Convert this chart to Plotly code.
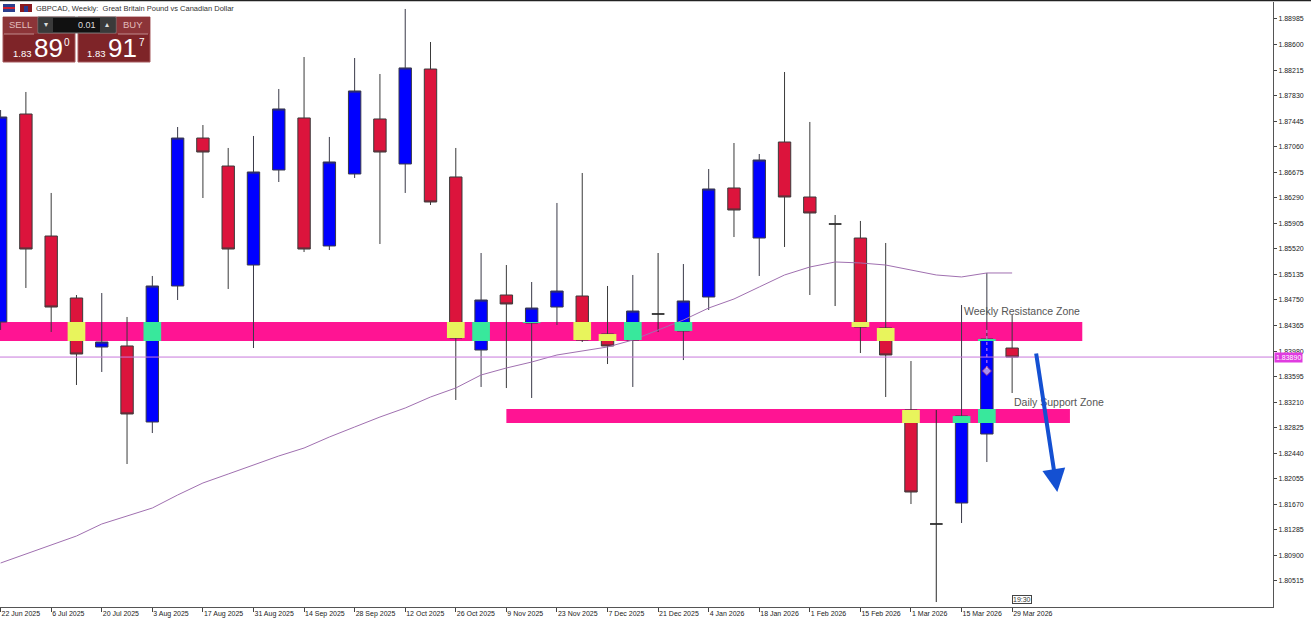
import plotly.graph_objects as go
import pandas as pd

# ---------------- data ----------------
dates = [
    "2025-06-22", "2025-06-29", "2025-07-06", "2025-07-13", "2025-07-20", "2025-07-27",
    "2025-08-03", "2025-08-10", "2025-08-17", "2025-08-24", "2025-08-31", "2025-09-07",
    "2025-09-14", "2025-09-21", "2025-09-28", "2025-10-05", "2025-10-12", "2025-10-19",
    "2025-10-26", "2025-11-02", "2025-11-09", "2025-11-16", "2025-11-23", "2025-11-30",
    "2025-12-07", "2025-12-14", "2025-12-21", "2025-12-28", "2026-01-04", "2026-01-11",
    "2026-01-18", "2026-01-25", "2026-02-01", "2026-02-08", "2026-02-15", "2026-02-22",
    "2026-03-01", "2026-03-08", "2026-03-15", "2026-03-22", "2026-03-29",
]
opens = [
    1.84418, 1.87553, 1.85714, 1.84780, 1.84041, 1.84057, 1.82911, 1.84961, 1.87191, 1.86769,
    1.85277, 1.86709, 1.87493, 1.85564, 1.86649, 1.87478, 1.86800, 1.88231, 1.86604, 1.83996,
    1.84825, 1.84403, 1.84644, 1.84810, 1.84237, 1.84147, 1.84539, 1.84283, 1.84795, 1.86438,
    1.85684, 1.87131, 1.86302, 1.85895, 1.85684, 1.84328, 1.83092, 1.81374, 1.81690, 1.82730,
    1.84026,
]
highs = [
    1.87613, 1.87885, 1.86363, 1.84825, 1.84855, 1.84494, 1.85112, 1.87357, 1.87387, 1.87041,
    1.87222, 1.87930, 1.88412, 1.87207, 1.88397, 1.88156, 1.89136, 1.88638, 1.87041, 1.85458,
    1.85277, 1.85021, 1.86212, 1.86664, 1.84961, 1.85127, 1.85458, 1.85292, 1.86724, 1.87116,
    1.86950, 1.88186, 1.87433, 1.86031, 1.85941, 1.85609, 1.83830, 1.83092, 1.84674, 1.85157,
    1.84524,
]
lows = [
    1.84298, 1.84931, 1.84268, 1.83469, 1.83665, 1.82278, 1.82745, 1.84750, 1.86287, 1.84916,
    1.84026, 1.86528, 1.85473, 1.85503, 1.86589, 1.85594, 1.86363, 1.86182, 1.83243, 1.83439,
    1.83423, 1.83273, 1.84373, 1.84117, 1.83785, 1.83439, 1.84268, 1.83845, 1.84599, 1.85699,
    1.85112, 1.85549, 1.84825, 1.84659, 1.83951, 1.83288, 1.81675, 1.80198, 1.81389, 1.82308,
    1.83348,
]
closes = [
    1.87508, 1.85518, 1.84644, 1.83936, 1.84117, 1.83032, 1.84961, 1.87191, 1.86980, 1.85518,
    1.86679, 1.87629, 1.85518, 1.86830, 1.87900, 1.86980, 1.88247, 1.86227, 1.84177, 1.84750,
    1.84690, 1.84629, 1.84885, 1.84147, 1.84057, 1.84584, 1.84539, 1.84735, 1.86423, 1.86106,
    1.86860, 1.86302, 1.86061, 1.85895, 1.84343, 1.83921, 1.81856, 1.81374, 1.83001, 1.84162,
    1.83890,
]
ma_values = [
    1.80786, 1.80922, 1.81057, 1.81193, 1.81374, 1.81494, 1.81615, 1.81811, 1.81992, 1.82127,
    1.82263, 1.82399, 1.82519, 1.82685, 1.82836, 1.82986, 1.83122, 1.83288, 1.83424, 1.83620,
    1.83725, 1.83815, 1.83921, 1.83981, 1.84042, 1.84147, 1.84298, 1.84448, 1.84629, 1.84765,
    1.84946, 1.85127, 1.85247, 1.85323, 1.85308, 1.85277, 1.85202, 1.85127, 1.85097, 1.85157,
    1.85157,
]
doji_index = [26, 33, 37]
current_price = 1.83890

x_tick_dates = [
    "2025-06-22", "2025-07-06", "2025-07-20", "2025-08-03", "2025-08-17", "2025-08-31",
    "2025-09-14", "2025-09-28", "2025-10-12", "2025-10-26", "2025-11-09", "2025-11-23",
    "2025-12-07", "2025-12-21", "2026-01-04", "2026-01-18", "2026-02-01", "2026-02-15",
    "2026-03-01", "2026-03-15", "2026-03-29",
]
x_tick_labels = [
    "22 Jun 2025", "6 Jul 2025", "20 Jul 2025", "3 Aug 2025", "17 Aug 2025", "31 Aug 2025",
    "14 Sep 2025", "28 Sep 2025", "12 Oct 2025", "26 Oct 2025", "9 Nov 2025", "23 Nov 2025",
    "7 Dec 2025", "21 Dec 2025", "4 Jan 2026", "18 Jan 2026", "1 Feb 2026", "15 Feb 2026",
    "1 Mar 2026", "15 Mar 2026", "29 Mar 2026",
]
y_ticks = [1.80515, 1.80900, 1.81285, 1.81670, 1.82055, 1.82440, 1.82825, 1.83210,
           1.83595, 1.83980, 1.84365, 1.84750, 1.85135, 1.85520, 1.85905, 1.86290,
           1.86675, 1.87060, 1.87445, 1.87830, 1.88215, 1.88600, 1.88985]

resistance_zone = {"start": "2025-06-01", "end": "2026-04-17 10:00", "low": 1.84132, "high": 1.84418}
support_zone = {"start": "2025-11-09", "end": "2026-04-14", "low": 1.82896, "high": 1.83107}

trade_marker_x = ["2026-03-22", "2026-03-22"]
trade_marker_y = [1.84298, 1.83680]

arrow_tail = ("2026-04-04 14:00", 1.83966)
arrow_head = ("2026-04-10 12:00", 1.81856)

# ---------------- styles ----------------
RED = "#dc143c"
BLUE = "#0000ff"
PINK = "#ff1493"
YELLOW = "#e8f45c"
GREEN = "#38e89c"
FONT = "Liberation Sans"

PLOT_W, PLOT_TOP, PLOT_BOTTOM = 1273, 2, 607


def px(x):
    return x / PLOT_W


def py(y):
    return (PLOT_BOTTOM - y) / (PLOT_BOTTOM - PLOT_TOP)


main_idx = [i for i in range(len(dates)) if i not in doji_index]

fig = go.Figure()

fig.add_trace(go.Candlestick(
    x=[dates[i] for i in main_idx],
    open=[opens[i] for i in main_idx],
    high=[highs[i] for i in main_idx],
    low=[lows[i] for i in main_idx],
    close=[closes[i] for i in main_idx],
    increasing=dict(fillcolor=BLUE, line=dict(color="#3a3a48", width=1)),
    decreasing=dict(fillcolor=RED, line=dict(color="#3a3a3a", width=1)),
    whiskerwidth=0, hoverinfo="skip",
))
fig.add_trace(go.Candlestick(
    x=[dates[i] for i in doji_index],
    open=[opens[i] for i in doji_index],
    high=[highs[i] for i in doji_index],
    low=[lows[i] for i in doji_index],
    close=[closes[i] for i in doji_index],
    increasing=dict(fillcolor="#2a2a2a", line=dict(color="#2a2a2a", width=1)),
    decreasing=dict(fillcolor="#2a2a2a", line=dict(color="#2a2a2a", width=1)),
    whiskerwidth=0, hoverinfo="skip",
))
fig.add_trace(go.Scatter(x=dates, y=ma_values, mode="lines",
                         line=dict(color="#a070b0", width=1), hoverinfo="skip"))
fig.add_trace(go.Scatter(x=trade_marker_x, y=trade_marker_y, mode="lines+markers",
                         line=dict(color="#e58ae5", width=1, dash="dot"),
                         marker=dict(symbol="diamond", size=[0, 7], color="#f3d0e8",
                                     line=dict(color="#c04060", width=1)),
                         hoverinfo="skip"))

shapes = []
for zone in (resistance_zone, support_zone):
    shapes.append(dict(type="rect", xref="x", yref="y", layer="below",
                       x0=zone["start"], x1=zone["end"], y0=zone["low"], y1=zone["high"],
                       fillcolor=PINK, line=dict(width=0)))

half_body = pd.Timedelta(days=2.45)
for i, d in enumerate(dates):
    lo, hi = min(opens[i], closes[i]), max(opens[i], closes[i])
    if hi - lo < 1e-6:
        continue
    t = pd.Timestamp(d)
    for zone in (resistance_zone, support_zone):
        if not (pd.Timestamp(zone["start"]) <= t <= pd.Timestamp(zone["end"])):
            continue
        o_lo, o_hi = max(lo, zone["low"]), min(hi, zone["high"])
        if o_hi > o_lo:
            shapes.append(dict(type="rect", xref="x", yref="y", layer="above",
                               x0=(t - half_body).strftime("%Y-%m-%d %H:%M:%S"),
                               x1=(t + half_body).strftime("%Y-%m-%d %H:%M:%S"),
                               y0=o_lo, y1=o_hi,
                               fillcolor=GREEN if closes[i] > opens[i] else YELLOW,
                               line=dict(width=0)))

# current price line
shapes.append(dict(type="line", xref="paper", yref="y", x0=0, x1=1,
                   y0=current_price, y1=current_price,
                   line=dict(color="#c878dc", width=1)))
# top window border
shapes.append(dict(type="line", xref="paper", yref="paper", x0=0, x1=1311 / PLOT_W,
                   y0=py(0.5), y1=py(0.5), line=dict(color="#222", width=1.5)))

# header icons
shapes += [
    dict(type="rect", xref="paper", yref="paper", x0=px(3), x1=px(15), y0=py(12), y1=py(4),
         fillcolor="#2b3f8f", line=dict(width=0)),
    dict(type="rect", xref="paper", yref="paper", x0=px(3), x1=px(15), y0=py(9), y1=py(7),
         fillcolor="#d02030", line=dict(width=0)),
    dict(type="rect", xref="paper", yref="paper", x0=px(20), x1=px(32), y0=py(12), y1=py(4),
         fillcolor="#8a1a20", line=dict(width=0)),
    dict(type="rect", xref="paper", yref="paper", x0=px(24), x1=px(28), y0=py(12), y1=py(6),
         fillcolor="#2a3a90", line=dict(width=0)),
]
# trading panel
shapes += [
    dict(type="rect", xref="paper", yref="paper", x0=px(3), x1=px(75), y0=py(62), y1=py(17),
         fillcolor="#7e2428", line=dict(color="#a65a5e", width=1)),
    dict(type="rect", xref="paper", yref="paper", x0=px(78), x1=px(150), y0=py(62), y1=py(17),
         fillcolor="#7e2428", line=dict(color="#a65a5e", width=1)),
    dict(type="rect", xref="paper", yref="paper", x0=px(3), x1=px(75), y0=py(34), y1=py(17),
         fillcolor="#8c3438", line=dict(width=0)),
    dict(type="rect", xref="paper", yref="paper", x0=px(78), x1=px(150), y0=py(34), y1=py(17),
         fillcolor="#8c3438", line=dict(width=0)),
    dict(type="rect", xref="paper", yref="paper", x0=px(38), x1=px(116), y0=py(33), y1=py(17),
         fillcolor="#111111", line=dict(color="#777", width=1)),
    dict(type="rect", xref="paper", yref="paper", x0=px(39), x1=px(53), y0=py(32), y1=py(18),
         fillcolor="#3a3a3a", line=dict(width=0)),
    dict(type="rect", xref="paper", yref="paper", x0=px(100), x1=px(115), y0=py(32), y1=py(18),
         fillcolor="#3a3a3a", line=dict(width=0)),
    dict(type="line", xref="paper", yref="paper", x0=px(4), x1=px(34), y0=py(34), y1=py(34),
         line=dict(color="#c08a8c", width=1)),
    dict(type="line", xref="paper", yref="paper", x0=px(118), x1=px(148), y0=py(34), y1=py(34),
         line=dict(color="#c08a8c", width=1)),
]

annotations = []


def label(x, y, text, size, color, anchor="left", family=FONT):
    annotations.append(dict(xref="paper", yref="paper", x=px(x), y=py(y), text=text,
                            showarrow=False, xanchor=anchor, yanchor="middle",
                            font=dict(size=size, color=color, family=family),
                            borderpad=0))


label(35, 8, "GBPCAD, Weekly:\u00a0 Great Britain Pound vs Canadian Dollar", 7.5, "#333")
label(8, 25, "SELL", 9.5, "#e2bcbc")
label(122, 25, "BUY", 9.5, "#e2bcbc")
label(46, 25, "\u25be", 8, "#ddd", "center")
label(107, 25, "\u25b4", 8, "#ddd", "center")
label(97, 25, "0.01", 9, "#ddd", "right")
label(12, 53, "1.83", 9.5, "#fff")
label(33, 48, "89", 26, "#fff")
label(63, 42, "0", 10, "#fff")
label(86, 53, "1.83", 9.5, "#fff")
label(107, 48, "91", 26, "#fff")
label(138, 42, "7", 10, "#fff")

# zone labels
annotations.append(dict(x="2026-03-15", y=1.84584, xref="x", yref="y",
                        text="Weekly Resistance Zone", showarrow=False, xanchor="left",
                        yanchor="middle", font=dict(size=10.5, color="#555", family=FONT)))
annotations.append(dict(x="2026-03-29", y=1.83212, xref="x", yref="y",
                        text="Daily Support Zone", showarrow=False, xanchor="left",
                        yanchor="middle", font=dict(size=10.5, color="#555", family=FONT)))
# arrow
annotations.append(dict(x=arrow_head[0], y=arrow_head[1], ax=arrow_tail[0], ay=arrow_tail[1],
                        xref="x", yref="y", axref="x", ayref="y", text="", showarrow=True,
                        arrowhead=2, arrowsize=1.15, arrowwidth=4, arrowcolor="#1450d2"))
# current price label on axis
annotations.append(dict(xref="paper", yref="y", x=1, y=current_price, xshift=1,
                        text="1.83890", showarrow=False, xanchor="left", yanchor="middle",
                        bgcolor="#e03ce0", font=dict(size=7, color="#fff", family=FONT),
                        borderpad=1))
# countdown box
annotations.append(dict(x="2026-03-29", y=py(599), xref="x", yref="paper", text="19:30",
                        showarrow=False, xanchor="left", yanchor="middle",
                        font=dict(size=7, color="#333", family=FONT),
                        bordercolor="#444", borderwidth=1, borderpad=0, bgcolor="#fff"))

fig.update_layout(
    width=1311, height=622,
    margin=dict(l=0, r=1311 - PLOT_W, t=PLOT_TOP, b=622 - PLOT_BOTTOM),
    paper_bgcolor="white", plot_bgcolor="white",
    showlegend=False,
    shapes=shapes, annotations=annotations,
    xaxis=dict(type="date", range=["2025-06-21 20:00", "2026-06-09 05:00"],
               rangeslider=dict(visible=False), showgrid=False, zeroline=False,
               showline=True, linecolor="#555", linewidth=1,
               ticks="outside", ticklen=4, tickcolor="#444",
               tickvals=x_tick_dates, ticktext=x_tick_labels,
               ticklabelposition="outside right",
               tickfont=dict(size=7, color="#222", family=FONT)),
    yaxis=dict(side="right", range=[1.80123, 1.89241], showgrid=False, zeroline=False,
               showline=True, linecolor="#555", linewidth=1,
               tickvals=y_ticks, tickformat=".5f", ticks="outside", ticklen=3,
               tickcolor="#444", tickfont=dict(size=7, color="#222", family=FONT)),
)

fig.write_html("out.html", config={"displayModeBar": False},
               post_script="document.body.style.margin='0';document.body.style.overflow='hidden';")
